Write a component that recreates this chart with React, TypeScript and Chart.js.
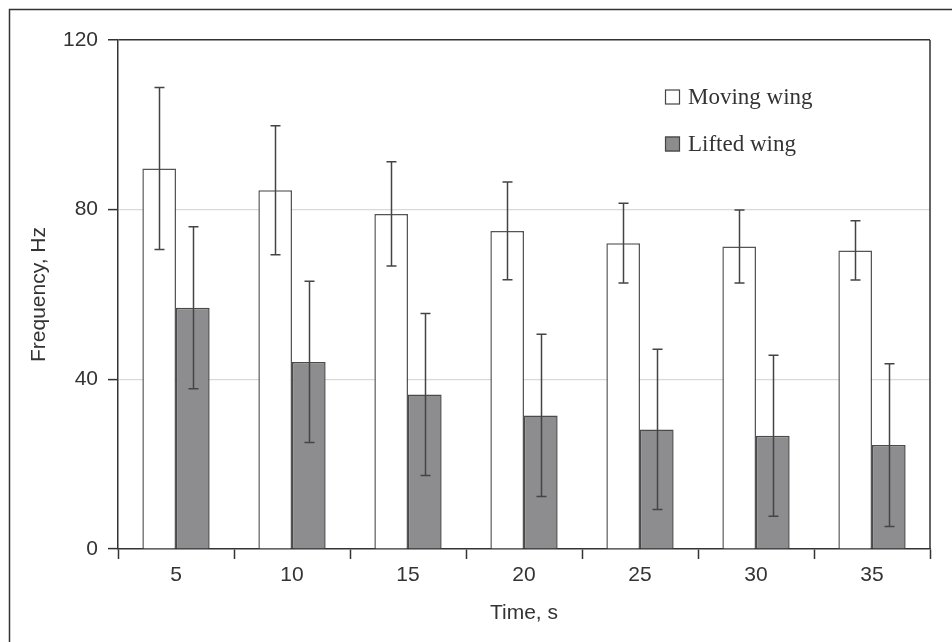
import React, { useEffect, useRef } from "react";
import { Chart, registerables } from "chart.js";

Chart.register(...registerables);

const categories = ["5", "10", "15", "20", "25", "30", "35"];
const movingWing = [89.7, 84.6, 79.0, 75.0, 72.1, 71.3, 70.4];
const movingWingErr = [19.1, 15.2, 12.3, 11.5, 9.4, 8.6, 7.0];
const liftedWing = [56.9, 44.1, 36.4, 31.5, 28.2, 26.7, 24.5];
const liftedWingErr = [19.1, 19.0, 19.1, 19.1, 18.9, 19.0, 19.2];
const seriesLabels = ["Moving wing", "Lifted wing"];
const yTicks = [0, 40, 80, 120];

const SANS = "'Liberation Sans', Arial, sans-serif";
const SERIF = "'Liberation Serif', 'Times New Roman', serif";

const errorBarPlugin = {
  id: "errorBars",
  afterDatasetsDraw(chart: any) {
    const { ctx } = chart;
    const yScale = chart.scales.y;
    const errs = [movingWingErr, liftedWingErr];
    ctx.save();
    ctx.strokeStyle = "#444";
    ctx.lineWidth = 1.5;
    chart.data.datasets.forEach((ds: any, di: number) => {
      const meta = chart.getDatasetMeta(di);
      meta.data.forEach((bar: any, i: number) => {
        const v = ds.data[i];
        const e = errs[di][i];
        const x = Math.round(bar.x) + 0.5;
        const yTop = yScale.getPixelForValue(v + e);
        const yBot = yScale.getPixelForValue(v - e);
        ctx.beginPath();
        ctx.moveTo(x, yTop);
        ctx.lineTo(x, yBot);
        ctx.moveTo(x - 5, yTop);
        ctx.lineTo(x + 5, yTop);
        ctx.moveTo(x - 5, yBot);
        ctx.lineTo(x + 5, yBot);
        ctx.stroke();
      });
    });
    ctx.restore();
  },
};

const framePlugin = {
  id: "frame",
  afterDraw(chart: any) {
    const { ctx, chartArea } = chart;
    ctx.save();
    ctx.strokeStyle = "#333";
    ctx.lineWidth = 1.5;
    ctx.beginPath();
    // outer frame (left and top)
    ctx.moveTo(9.5, chart.height);
    ctx.lineTo(9.5, 9.5);
    ctx.lineTo(chart.width, 9.5);
    // right side of plot box
    ctx.moveTo(chartArea.right, chartArea.top);
    ctx.lineTo(chartArea.right, chartArea.bottom);
    ctx.stroke();

    // legend
    const items = chart.data.datasets;
    const x0 = 665;
    const ys = [97, 144];
    ctx.font = `23px ${SERIF}`;
    ctx.textBaseline = "middle";
    ctx.textAlign = "left";
    items.forEach((ds: any, i: number) => {
      const y = ys[i];
      ctx.fillStyle = ds.backgroundColor;
      ctx.fillRect(x0, y - 7.5, 15, 15);
      ctx.strokeStyle = "#444";
      ctx.lineWidth = 1.2;
      ctx.strokeRect(x0 + 0.5, y - 7, 14, 14);
      ctx.fillStyle = "#333";
      ctx.fillText(ds.label, x0 + 23, y + 1);
    });
    ctx.restore();
  },
};

export default function App() {
  const ref = useRef<HTMLCanvasElement | null>(null);

  useEffect(() => {
    if (!ref.current) return;
    const chart = new Chart(ref.current, {
      type: "bar",
      data: {
        labels: categories,
        datasets: [
          {
            label: seriesLabels[0],
            data: movingWing,
            backgroundColor: "#ffffff",
            borderColor: "#555",
            borderWidth: 1.5,
            barPercentage: 1,
            categoryPercentage: 0.58,
          },
          {
            label: seriesLabels[1],
            data: liftedWing,
            backgroundColor: "#8d8d90",
            borderColor: "#4a4a4a",
            borderWidth: 1.5,
            barPercentage: 1,
            categoryPercentage: 0.58,
          },
        ],
      },
      options: {
        responsive: false,
        animation: false,
        devicePixelRatio: 1,
        layout: { padding: { left: 0, top: 40, right: 22, bottom: 0 } },
        plugins: {
          legend: { display: false },
          tooltip: { enabled: false },
        },
        scales: {
          x: {
            offset: true,
            grid: {
              offset: true,
              drawOnChartArea: false,
              drawTicks: true,
              tickLength: 10,
              tickColor: "#333",
              tickWidth: 1.5,
            },
            border: { display: true, color: "#333", width: 1.5 },
            ticks: {
              font: { family: SANS, size: 21 },
              color: "#333",
              padding: 4,
            },
            title: {
              display: true,
              text: "Time, s",
              font: { family: SANS, size: 21 },
              color: "#333",
              padding: { top: 0, bottom: 16 },
            },
            afterFit(scale: any) {
              scale.height = 93;
            },
          },
          y: {
            min: 0,
            max: 120,
            afterBuildTicks(scale: any) {
              scale.ticks = yTicks.map((v) => ({ value: v }));
            },
            grid: {
              drawTicks: true,
              tickLength: 10,
              tickColor: "#333",
              tickWidth: 1.5,
              color: (c: any) =>
                c.tick && c.tick.value === 120
                  ? "#333"
                  : c.tick && c.tick.value === 0
                  ? "rgba(0,0,0,0)"
                  : "#d9d9d9",
              lineWidth: (c: any) => (c.tick && c.tick.value === 120 ? 1.5 : 1.2),
            },
            border: { display: true, color: "#333", width: 1.5 },
            ticks: {
              font: { family: SANS, size: 21 },
              color: "#333",
              padding: 10,
            },
            title: {
              display: true,
              text: "Frequency, Hz",
              font: { family: SANS, size: 21 },
              color: "#333",
              padding: { top: 27, bottom: 0 },
            },
            afterFit(scale: any) {
              scale.width = 118;
            },
          },
        },
      },
      plugins: [errorBarPlugin, framePlugin],
    });
    return () => chart.destroy();
  }, []);

  return (
    <div style={{ position: "fixed", left: 0, top: 0, width: 952, height: 642, background: "#fff" }}>
      <canvas ref={ref} width={952} height={642} style={{ width: 952, height: 642, display: "block" }} />
    </div>
  );
}
